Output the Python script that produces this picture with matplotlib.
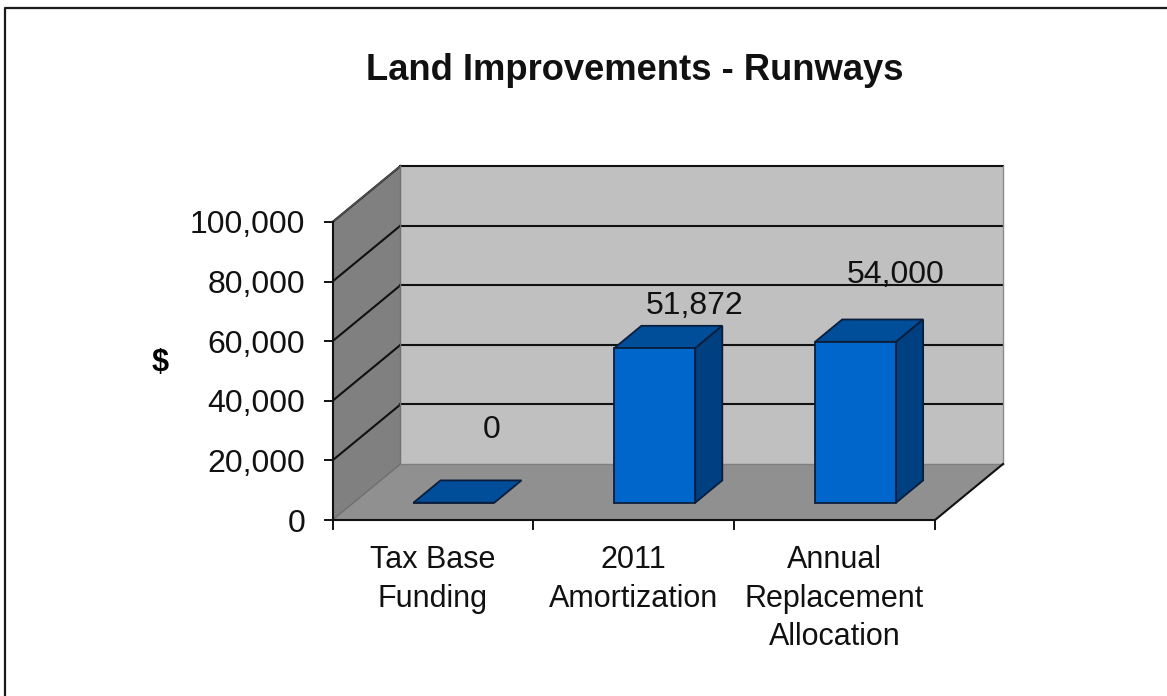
import numpy as np
import matplotlib
matplotlib.use('Agg')
import matplotlib.pyplot as plt
from matplotlib.patches import Polygon
from matplotlib.lines import Line2D

categories = ['Tax Base\nFunding', '2011\nAmortization', 'Annual\nReplacement\nAllocation']
values = [0, 51872, 54000]
value_labels = ['0', '51,872', '54,000']
y_ticks = [0, 20000, 40000, 60000, 80000, 100000]
label_shift_px = [(38, 73), (40, 42), (40, 67)]  # hand placed data labels

W, H = 1167, 696
plt.rcParams['font.family'] = ['Liberation Sans', 'DejaVu Sans']

fig = plt.figure(figsize=(W / 100, H / 100), dpi=100)
fig.patch.set_facecolor('white')

# front plane of the box, in pixels
left, right, top, bottom = 332.5, 935.0, 222.0, 520.0
ax = fig.add_axes([left / W, 1 - bottom / H, (right - left) / W, (bottom - top) / H])
ax.set_xlim(-0.5, 2.5)
ax.set_ylim(0, 100000)
ax.patch.set_visible(False)

# depth of the box in data units
DX = 68.0 / ((right - left) / 3)
DY = 56.0 / (bottom - top) * 100000
BAR_W = 0.403
D0, D1 = 0.309, 0.707


def proj(x, y, d):
    return (x + d * DX, y + d * DY)


def face(pts, color, edge='none', lw=0.0, z=1):
    ax.add_patch(Polygon(pts, closed=True, facecolor=color, edgecolor=edge, linewidth=lw,
                         zorder=z, clip_on=False))


def seg(a, b, color='#111111', lw=1.5, z=2):
    ax.add_line(Line2D([a[0], b[0]], [a[1], b[1]], color=color, lw=lw, zorder=z, clip_on=False))


x0, x1 = -0.5, 2.5
ymax = y_ticks[-1]

# walls and floor
face([proj(x0, 0, 1), proj(x1, 0, 1), proj(x1, ymax, 1), proj(x0, ymax, 1)], '#c0c0c0')
face([proj(x0, 0, 0), proj(x0, 0, 1), proj(x0, ymax, 1), proj(x0, ymax, 0)], '#808080')
face([proj(x0, 0, 0), proj(x1, 0, 0), proj(x1, 0, 1), proj(x0, 0, 1)], '#909090')

# grid lines run along the side wall and then the back wall
for t in y_ticks[1:]:
    seg(proj(x0, t, 0), proj(x0, t, 1))
    seg(proj(x0, t, 1), proj(x1, t, 1))
seg(proj(x0, 0, 0), proj(x0, 0, 1), color='#6e6e6e', lw=1.0)
seg(proj(x0, ymax, 0), proj(x0, ymax, 1), color='#555555', lw=1.0)
seg(proj(x0, 0, 1), proj(x0, ymax, 1), color='#707070', lw=1.0)
seg(proj(x1, 0, 1), proj(x1, ymax, 1), color='#8a8a8a', lw=1.0)
seg(proj(x0, 0, 1), proj(x1, 0, 1), color='#808080', lw=1.0)
seg(proj(x1, 0, 0), proj(x1, 0, 1))

# bars: front faces with the library, top and side as polygons
pos = np.arange(len(values))
edge = '#0a1e3c'
ax.bar(pos + D0 * DX, values, BAR_W, bottom=D0 * DY, color='#0066cc', edgecolor=edge,
       linewidth=1.3, zorder=5, clip_on=False)
for p, v in zip(pos, values):
    a, b = p - BAR_W / 2, p + BAR_W / 2
    face([proj(a, v, D0), proj(b, v, D0), proj(b, v, D1), proj(a, v, D1)], '#004d99', edge, 1.3, 4)
    if v > 0:
        face([proj(b, 0, D0), proj(b, 0, D1), proj(b, v, D1), proj(b, v, D0)], '#003f80', edge, 1.3, 4)

# data labels
for p, v, s, (sx, sy) in zip(pos, values, value_labels, label_shift_px):
    bx, by = proj(p, v, D0)
    ax.annotate(s, (bx, by), xytext=(sx * 0.72, sy * 0.72), textcoords='offset points',
                ha='center', va='center', fontsize=23, color='#111111', zorder=6,
                annotation_clip=False)

# axes
for name in ['top', 'right']:
    ax.spines[name].set_visible(False)
for name in ['left', 'bottom']:
    ax.spines[name].set_linewidth(1.5)
    ax.spines[name].set_color('#111111')
    ax.spines[name].set_zorder(3)

ax.set_yticks(y_ticks)
ax.set_yticklabels([f'{t:,}' for t in y_ticks])
ax.tick_params(axis='y', length=6.5, width=1.3, pad=13, labelsize=23, labelcolor='#111111')
ax.set_xticks(np.arange(-0.5, 3, 1))
ax.set_xticklabels([])
ax.tick_params(axis='x', which='major', length=7, width=1.3)
ax.set_xticks(np.arange(len(categories)), minor=True)
ax.set_xticklabels(categories, minor=True, linespacing=1.38, fontsize=22, color='#111111')
ax.tick_params(axis='x', which='minor', length=0, pad=18)

ax.set_ylabel('$', rotation=0, fontsize=22, fontweight='bold', ha='center', va='center')
ax.yaxis.set_label_coords((160 - left) / (right - left), (bottom - 363) / (bottom - top))

fig.text(634.5 / W, 1 - 70 / H, 'Land Improvements - Runways', ha='center', va='center',
         fontsize=26.2, fontweight='bold', color='#111111')

# outer frame, only the left and top edges are visible
fig.add_artist(Line2D([5.2 / W, 5.2 / W, 1], [0, 1 - 7.5 / H, 1 - 7.5 / H],
                      color='#1a1a1a', lw=1.6))

fig.savefig('out.png', dpi=100)
